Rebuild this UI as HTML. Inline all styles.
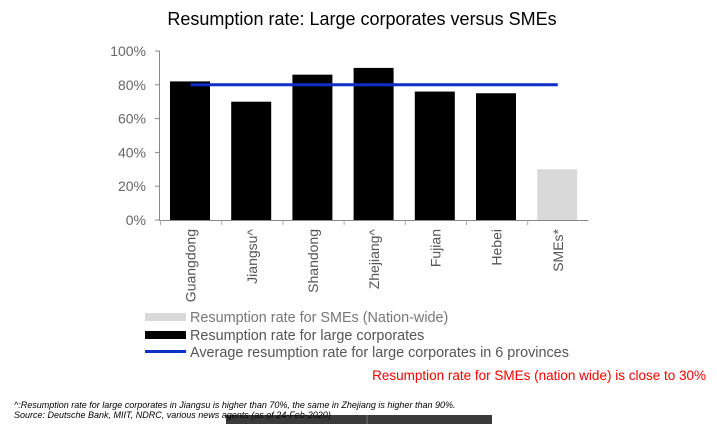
<!DOCTYPE html>
<html><head><meta charset="utf-8"><style>
body{margin:0;background:#fff;font-family:"Liberation Sans",sans-serif;}
svg text{font-family:"Liberation Sans",sans-serif;}
</style></head><body>
<svg width="717" height="424" id="c">
<text x="362" y="25" text-anchor="middle" font-size="18" fill="#000">Resumption rate: Large corporates versus SMEs</text>
<g id="plot"></g>
<g>
<rect x="145" y="313" width="41" height="8" fill="#d9d9d9"/>
<text x="190" y="322" font-size="14.4" fill="#777">Resumption rate for SMEs (Nation-wide)</text>
<rect x="145" y="331" width="41" height="8" fill="#000"/>
<text x="190" y="340" font-size="14.4" fill="#555">Resumption rate for large corporates</text>
<rect x="145" y="350" width="41" height="3" fill="#0b2fc8"/>
<text x="190" y="357" font-size="14.4" fill="#555">Average resumption rate for large corporates in 6 provinces</text>
</g>
<text x="706" y="380" text-anchor="end" font-size="13.5" fill="#ff0000">Resumption rate for SMEs (nation wide) is close to 30%</text>
<text x="14" y="408" font-size="9" font-style="italic" fill="#000">^:Resumption rate for large corporates in Jiangsu is higher than 70%, the same in Zhejiang is higher than 90%.</text>
<rect x="226" y="415" width="266" height="9" fill="#3a3a3a"/>
<line x1="367" y1="415" x2="367" y2="424" stroke="#777" stroke-width="1"/>
<text x="14" y="418" font-size="9" font-style="italic" fill="#000">Source: Deutsche Bank, MIIT, NDRC, various news agents (as of 24-Feb-2020)</text>
</svg>
<script>
const categories=["Guangdong","Jiangsu^","Shandong","Zhejiang^","Fujian","Hebei","SMEs*"];
const values=[82,70,86,90,76,75,30];
const barColors=["#000","#000","#000","#000","#000","#000","#d9d9d9"];
const averageValue=80;
const yTicks=[0,20,40,60,80,100];
const NS="http://www.w3.org/2000/svg";
const g=document.getElementById('plot');
const x0=160,band=61.2,y0=220,yTop=51;
const y=v=>y0-(v/100)*(y0-yTop);
const bx=i=>x0+i*band;
function mk(t,a){const e=document.createElementNS(NS,t);for(const k in a)e.setAttribute(k,a[k]);g.appendChild(e);return e;}
const ax=mk('line',{x1:159.5,y1:yTop,x2:159.5,y2:y0,stroke:'#888'});


yTicks.forEach(t=>{
 mk('line',{x1:155,x2:160,y1:y(t),y2:y(t),stroke:'#888'});
 const tx=mk('text',{x:146,y:y(t)+5,'text-anchor':'end','font-size':'14',fill:'#666'});
 tx.textContent=t+'%';
 
 
});
const xa=mk('line',{x1:159,x2:x0+categories.length*band,y1:y0+0.5,y2:y0+0.5,stroke:'#888'});


categories.forEach((c,i)=>{
 mk('line',{x1:bx(i)+0.5,x2:bx(i)+0.5,y1:y0,y2:y0+5,stroke:'#aaa'});
 const r=mk('rect',{x:bx(i)+10,y:y(values[i]),width:40,height:y0-y(values[i]),fill:barColors[i]});
 
 
 const cx=bx(i)+band/2+5;
 const t=mk('text',{x:0,y:0,'text-anchor':'end','font-size':'14',fill:'#555',transform:`translate(${cx},229) rotate(-90)`});
 t.textContent=c;
 
 
});
const avg=mk('line',{x1:bx(0)+band/2,x2:bx(6)+band/2,y1:y(averageValue),y2:y(averageValue),stroke:'#0b2fc8','stroke-width':3});


</script>
</body></html>
